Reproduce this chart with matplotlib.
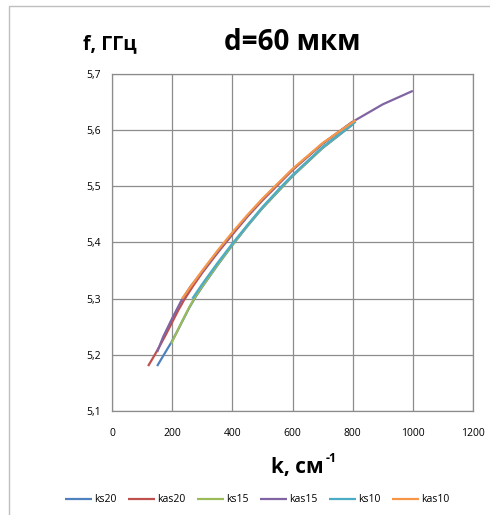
import matplotlib
matplotlib.use("Agg")
import matplotlib.pyplot as plt
from matplotlib.patches import Rectangle

plt.rcParams['font.family'] = ['Open Sans', 'DejaVu Sans']

# ---- data ----
ks20_k = [150, 170, 197, 215, 235, 257, 280, 300, 350, 400, 450, 500, 600, 700, 800]
ks20_f = [5.18, 5.198, 5.222, 5.24, 5.261, 5.284, 5.305, 5.321, 5.359, 5.395, 5.429, 5.461, 5.518, 5.568, 5.610]

kas20_k = [120, 140, 160, 180, 200, 220, 240, 270, 300, 350, 400, 450, 500, 600, 700, 800]
kas20_f = [5.18, 5.198, 5.217, 5.237, 5.258, 5.279, 5.298, 5.323, 5.346, 5.381, 5.414, 5.446, 5.475, 5.529, 5.576, 5.615]

ks15_k = [197, 215, 235, 257, 280, 300, 350, 400, 450, 500, 600, 700, 800]
ks15_f = [5.22, 5.24, 5.262, 5.285, 5.306, 5.322, 5.36, 5.396, 5.43, 5.462, 5.519, 5.569, 5.611]

kas15_k = [150, 170, 200, 230, 260, 300, 350, 400, 450, 500, 600, 700, 800, 900, 1000]
kas15_f = [5.205, 5.232, 5.265, 5.296, 5.321, 5.348, 5.383, 5.416, 5.447, 5.477, 5.530, 5.576, 5.615, 5.646, 5.670]

ks10_k = [267, 300, 350, 400, 450, 500, 560, 600, 700, 810]
ks10_f = [5.30, 5.326, 5.363, 5.398, 5.431, 5.463, 5.498, 5.52, 5.570, 5.615]

kas10_k = [233, 250, 300, 350, 400, 450, 500, 600, 700, 810]
kas10_f = [5.30, 5.313, 5.350, 5.385, 5.418, 5.449, 5.478, 5.531, 5.577, 5.618]

series_names = ['ks20', 'kas20', 'ks15', 'kas15', 'ks10', 'kas10']
series_k = [ks20_k, kas20_k, ks15_k, kas15_k, ks10_k, kas10_k]
series_f = [ks20_f, kas20_f, ks15_f, kas15_f, ks10_f, kas10_f]
colors = ['#4F81BD', '#C0504D', '#9BBB59', '#8064A2', '#4BACC6', '#F79646']

x_ticks = [0, 200, 400, 600, 800, 1000, 1200]
y_ticks = [5.1, 5.2, 5.3, 5.4, 5.5, 5.6, 5.7]
y_tick_labels = ['5,1', '5,2', '5,3', '5,4', '5,5', '5,6', '5,7']

W, H = 490, 515
fig = plt.figure(figsize=(W / 100, H / 100), dpi=100)

# outer chart frame
fig.patches.append(Rectangle((9 / W, 0 - 0.01), 1.2, 1 - 6 / H + 0.01,
                             transform=fig.transFigure, fill=False,
                             edgecolor='#BFBFBF', linewidth=1.0))

ax = fig.add_axes([112 / W, 1 - 411 / H, (473 - 112) / W, (411 - 74) / H])

for name, k, f, c in zip(series_names, series_k, series_f, colors):
    ax.plot(k, f, color=c, linewidth=1.6, label=name,
            solid_capstyle='butt', solid_joinstyle='round')

ax.set_xlim(0, 1200)
ax.set_ylim(5.1, 5.7)
ax.set_xticks(x_ticks)
ax.set_xticklabels([str(t) for t in x_ticks])
ax.set_yticks(y_ticks)
ax.set_yticklabels(y_tick_labels)
ax.tick_params(axis='both', length=0, labelsize=7.5, colors='#000000')
ax.tick_params(axis='y', pad=8)
ax.tick_params(axis='x', pad=12)
ax.grid(True, color='#8C8C8C', linewidth=0.9)
ax.set_axisbelow(True)
for s in ax.spines.values():
    s.set_color('#8C8C8C')
    s.set_linewidth(0.9)

fig.text(110 / W, 1 - 44 / H, 'f, ГГц', fontsize=14, fontweight='bold',
         ha='center', va='center')
fig.text(292 / W, 1 - 43 / H, 'd=60 мкм', fontsize=20, fontweight='bold',
         ha='center', va='center')
fig.text(324 / W, 1 - 467 / H, 'k, см', fontsize=15, fontweight='bold',
         ha='right', va='center')
fig.text(326 / W, 1 - 459 / H, '-1', fontsize=9, fontweight='bold',
         ha='left', va='center')

leg = fig.legend(loc='center', bbox_to_anchor=(257 / W, 1 - 500 / H), ncol=6,
                 frameon=False, fontsize=7.5, handlelength=2.6, handletextpad=0.2,
                 columnspacing=1.1)

fig.savefig('out.png', dpi=100)
